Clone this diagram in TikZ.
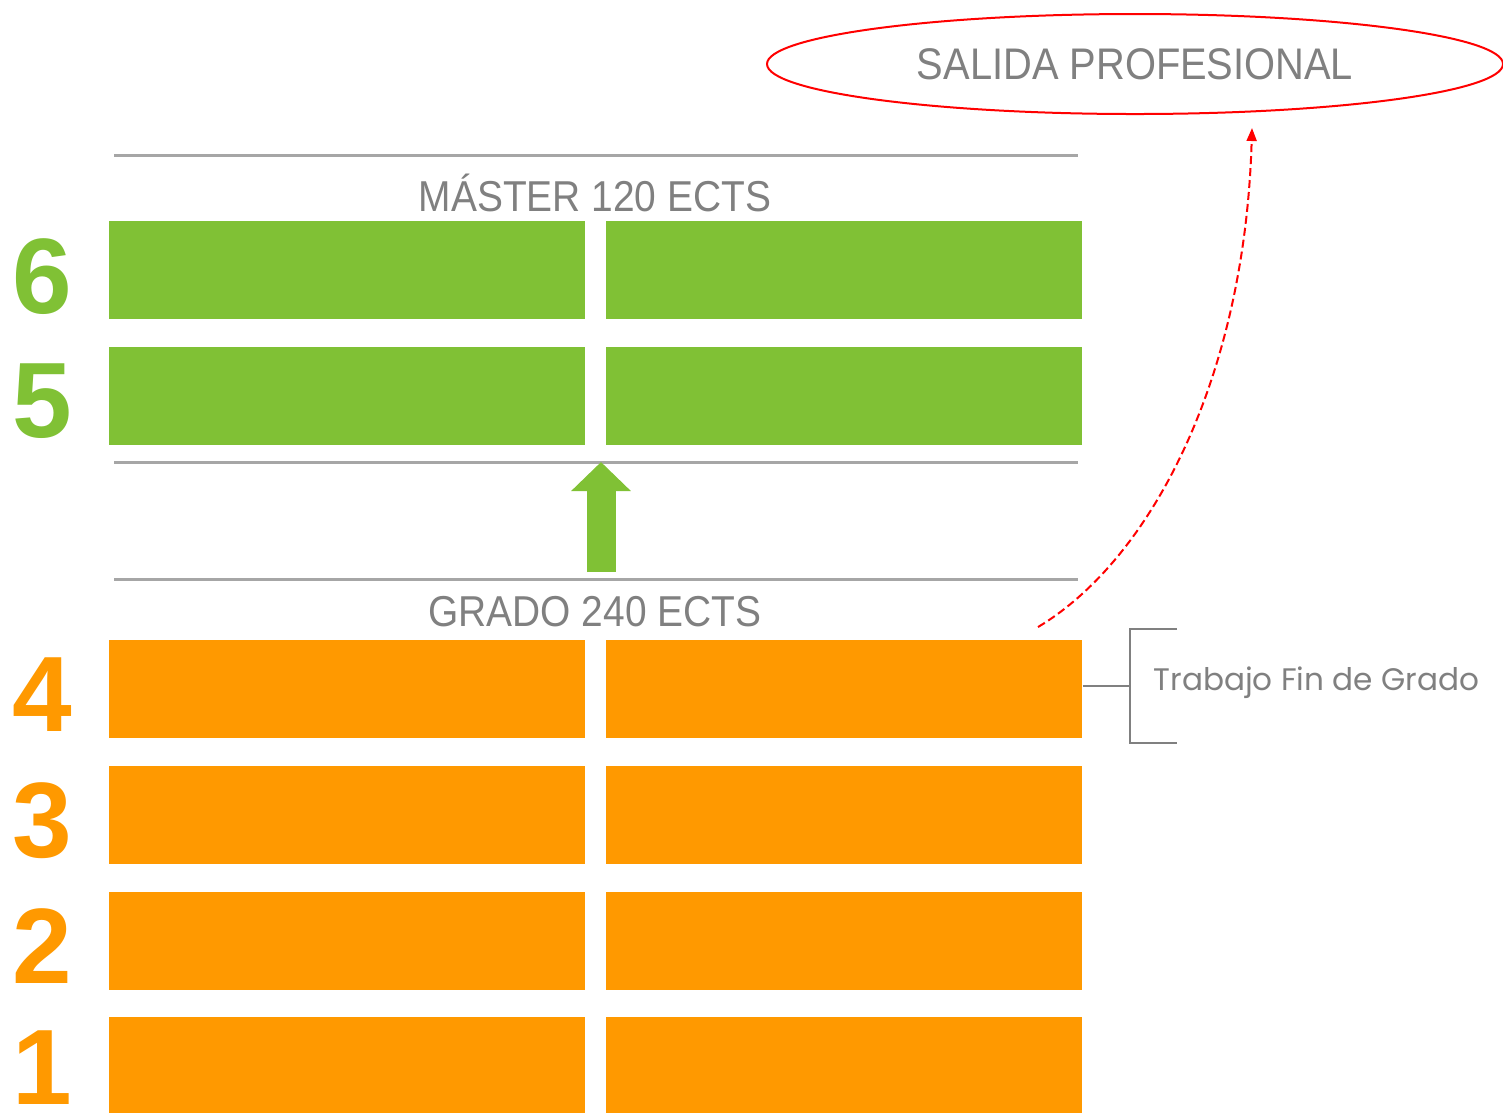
\documentclass[tikz,border=0pt]{standalone}
\usepackage{fontspec}
\setmainfont{Liberation Sans}
\newfontfamily\headfont[FakeStretch=0.9]{Liberation Sans}
\newfontfamily\notefont{Poppins}
\usetikzlibrary{arrows.meta,shapes.geometric}
\definecolor{verde}{HTML}{80C135}
\definecolor{naranja}{HTML}{FF9900}
\definecolor{gris}{HTML}{A6A6A6}
\definecolor{grisTexto}{HTML}{808080}
\definecolor{rojo}{HTML}{FF0000}

\begin{document}
\begin{tikzpicture}[x=0.1mm,y=0.1mm]
\tikzstyle{every node}+=[inner sep=0pt]
\tikzstyle{barra}=[minimum width=4.76cm, minimum height=0.98cm]
\tikzstyle{curso}=[font=\fontsize{30.5}{30.5}\selectfont\bfseries]
\tikzstyle{titulo}=[text=grisTexto, font=\headfont\fontsize{12.3}{12.3}\selectfont]
\tikzstyle{raya}=[gris, line width=0.3mm]
\tikzstyle{corchete}=[grisTexto, line width=0.2mm]
\useasboundingbox (0,0) rectangle (1503,-1112);
% master
\node [barra, fill=verde] (m6a) at (347,-270) {};
\node [barra, fill=verde] (m6b) at (844,-270) {};
\node [barra, fill=verde] (m5a) at (347,-396) {};
\node [barra, fill=verde] (m5b) at (844,-396) {};
\node [curso, text=verde] (n6) at (42,-277) {6};
\node [curso, text=verde] (n5) at (42,-401) {5};
\node [titulo] (master) at (595,-193) {MÁSTER 120 ECTS};
% grado
\node [barra, fill=naranja] (g4a) at (347,-689) {};
\node [barra, fill=naranja] (g4b) at (844,-689) {};
\node [barra, fill=naranja] (g3a) at (347,-815) {};
\node [barra, fill=naranja] (g3b) at (844,-815) {};
\node [barra, fill=naranja] (g2a) at (347,-941) {};
\node [barra, fill=naranja] (g2b) at (844,-941) {};
\node [barra, fill=naranja] (g1a) at (347,-1066) {};
\node [barra, fill=naranja] (g1b) at (844,-1066) {};
\node [curso, text=naranja] (n4) at (42,-695) {4};
\node [curso, text=naranja] (n3) at (42,-821) {3};
\node [curso, text=naranja] (n2) at (42,-946) {2};
\node [curso, text=naranja] (n1) at (42,-1068) {1};
\node [titulo] (grado) at (595,-612) {GRADO 240 ECTS};
% rayas
\coordinate (r1a) at (114,-155);
\coordinate (r1b) at (1078,-155);
\coordinate (r2a) at (114,-462);
\coordinate (r2b) at (1078,-462);
\coordinate (r3a) at (114,-579);
\coordinate (r3b) at (1078,-579);
\draw [raya] (r1a) -- (r1b);
\draw [raya] (r2a) -- (r2b);
\draw [raya] (r3a) -- (r3b);
% flecha grado -> master
\coordinate (fIni) at (601,-572);
\coordinate (fFin) at (601,-462);
\draw [verde, line width=2.9mm, -{Triangle[length=2.9mm,width=5.8mm]}] (fIni) -- (fFin);
% salida profesional
\node [ellipse, draw=rojo, line width=0.2mm, minimum width=7.36cm, minimum height=1cm,
  text=grisTexto, font=\headfont\fontsize{12.6}{12.6}\selectfont] (salida) at (1135,-64) {SALIDA PROFESIONAL};
\coordinate (sIni) at (1038,-627);
\coordinate (sFin) at (1252,-128);
\draw [rojo, line width=0.2mm, dash pattern=on 0.8mm off 0.4mm, -{Triangle[length=1.3mm,width=1mm]}]
  (sIni) .. controls (1150,-560) and (1245,-380) .. (sFin);
% trabajo fin de grado
\node [anchor=west, text=grisTexto, font=\notefont\fontsize{8.85}{8.85}\selectfont] (tfg) at (1153,-683) {Trabajo Fin de Grado};
\coordinate (cMed) at (1130,-686);
\coordinate (cAr) at (1177,-629);
\coordinate (cAb) at (1177,-743);
\draw [corchete] (g4b.east |- cMed) -- (cMed);
\draw [corchete] (cAr) -- (cAr -| cMed) -- (cAb -| cMed) -- (cAb);
\end{tikzpicture}
\end{document}
